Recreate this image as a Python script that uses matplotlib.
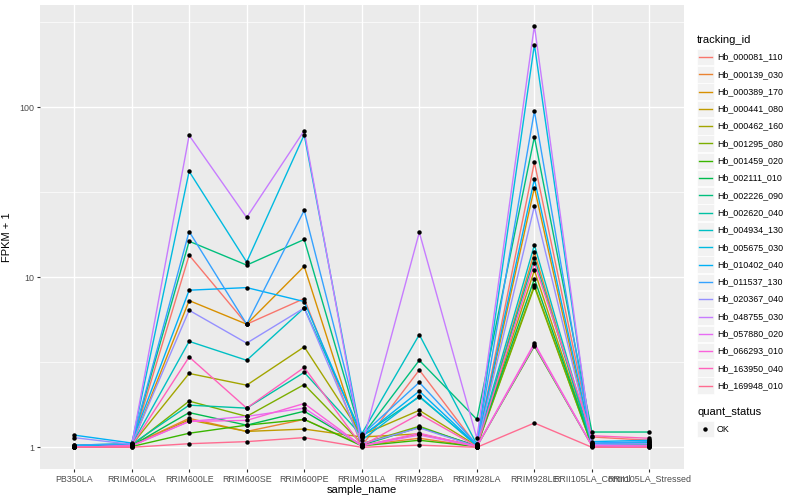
import numpy as np
import matplotlib.pyplot as plt
from matplotlib.lines import Line2D
from matplotlib.patches import Rectangle

plt.rcParams['font.family'] = ['Liberation Sans', 'DejaVu Sans']

samples = ["PB350LA", "RRIM600LA", "RRIM600LE", "RRIM600SE", "RRIM600PE",
           "RRIM901LA", "RRIM928BA", "RRIM928LA", "RRIM928LE",
           "RRII105LA_Control", "RRII105LA_Stressed"]

tracking_ids = ["Hb_000081_110", "Hb_000139_030", "Hb_000389_170", "Hb_000441_080",
                "Hb_000462_160", "Hb_001295_080", "Hb_001459_020", "Hb_002111_010",
                "Hb_002226_090", "Hb_002620_040", "Hb_004934_130", "Hb_005675_030",
                "Hb_010402_040", "Hb_011537_130", "Hb_020367_040", "Hb_048755_030",
                "Hb_057880_020", "Hb_066293_010", "Hb_163950_040", "Hb_169948_010"]

colors = ["#F8766D", "#EA8331", "#D89000", "#C09B00", "#A3A500", "#7CAE00",
          "#39B600", "#00BB4E", "#00BF7D", "#00C1A3", "#00BFC4", "#00BAE0",
          "#00B0F6", "#35A2FF", "#9590FF", "#C77CFF", "#E76BF3", "#FA62DB",
          "#FF62BC", "#FF6C91"]

# FPKM + 1, one row per tracking_id, columns follow samples
fpkm = [
    [1.00, 1.02, 13.5, 5.3, 7.5, 1.02, 2.85, 1.02, 47.5, 1.15, 1.10],
    [1.00, 1.03, 1.48, 1.24, 1.46, 1.03, 1.13, 1.01, 14.0, 1.02, 1.02],
    [1.00, 1.02, 7.3, 5.3, 11.6, 1.02, 1.20, 1.01, 33.7, 1.03, 1.03],
    [1.00, 1.02, 1.45, 1.24, 1.28, 1.15, 1.20, 1.01, 11.0, 1.02, 1.02],
    [1.00, 1.03, 2.72, 2.32, 3.9, 1.18, 1.65, 1.02, 9.0, 1.02, 1.02],
    [1.00, 1.02, 1.87, 1.52, 2.34, 1.05, 1.33, 1.01, 8.8, 1.02, 1.02],
    [1.00, 1.01, 1.21, 1.35, 1.46, 1.02, 1.10, 1.01, 3.94, 1.02, 1.02],
    [1.00, 1.02, 1.60, 1.35, 1.63, 1.03, 1.31, 1.02, 9.8, 1.03, 1.03],
    [1.03, 1.05, 16.3, 11.8, 16.7, 1.16, 3.25, 1.46, 67.0, 1.23, 1.23],
    [1.02, 1.04, 1.77, 1.70, 2.76, 1.17, 1.98, 1.03, 13.0, 1.04, 1.07],
    [1.02, 1.03, 4.2, 3.25, 6.6, 1.20, 4.6, 1.04, 15.5, 1.05, 1.07],
    [1.02, 1.04, 42.0, 12.3, 69.0, 1.10, 2.00, 1.02, 234.0, 1.05, 1.05],
    [1.18, 1.06, 8.4, 8.7, 7.2, 1.15, 2.14, 1.03, 37.9, 1.08, 1.10],
    [1.03, 1.05, 18.6, 5.3, 24.8, 1.18, 2.41, 1.04, 95.0, 1.06, 1.08],
    [1.14, 1.04, 6.4, 4.1, 6.6, 1.05, 1.30, 1.01, 26.2, 1.04, 1.05],
    [1.00, 1.02, 68.4, 22.5, 73.0, 1.02, 18.4, 1.13, 302.0, 1.03, 1.00],
    [1.00, 1.02, 1.42, 1.52, 1.70, 1.02, 1.18, 1.01, 4.0, 1.02, 1.02],
    [1.00, 1.02, 1.42, 1.44, 1.81, 1.02, 1.21, 1.01, 4.1, 1.02, 1.02],
    [1.00, 1.02, 3.4, 1.70, 2.95, 1.02, 1.57, 1.01, 12.1, 1.17, 1.13],
    [1.00, 1.00, 1.05, 1.08, 1.14, 1.00, 1.03, 1.00, 1.39, 1.00, 1.00],
]

fig = plt.figure(figsize=(8, 5), dpi=100)
ax = fig.add_axes([0.0494, 0.062, 0.8056, 0.928])
ax.set_facecolor("#EBEBEB")
for s in ax.spines.values():
    s.set_visible(False)

x = np.arange(len(samples))
for vals, c in zip(fpkm, colors):
    ax.plot(x, vals, color=c, lw=1.0, zorder=3)
for vals in fpkm:
    ax.plot(x, vals, 'o', color='black', ms=3.2, mew=0, zorder=4, ls='none')

ax.set_yscale('log')
ax.set_ylim(10 ** -0.1276, 10 ** 2.602)
ax.set_xlim(-0.6, len(samples) - 0.4)
ax.set_yticks([1, 10, 100])
ax.set_yticklabels(["1", "10", "100"])
ax.set_yticks([10 ** 0.5, 10 ** 1.5, 10 ** 2.5], minor=True)
ax.yaxis.set_minor_formatter(plt.NullFormatter())
ax.set_xticks(x)
ax.set_xticklabels(samples)
ax.grid(True, which='major', color='white', lw=1.0, zorder=1)
ax.grid(True, which='minor', axis='y', color='white', lw=0.5, zorder=1)
ax.tick_params(axis='both', which='major', length=2, width=0.8, color='#333333',
               labelsize=6.4, labelcolor='#4D4D4D', pad=2)
ax.tick_params(axis='y', which='minor', length=0)
ax.set_xlabel("sample_name", fontsize=8, labelpad=1)
ax.set_ylabel("FPKM + 1", fontsize=8, labelpad=5)

# legend drawn by hand in ggplot style
W, H = 800.0, 500.0
def fx(px): return px / W
def fy(py): return 1 - py / H

fig.text(fx(697), fy(40), "tracking_id", fontsize=8, va='center', ha='left')
for i, (name, c) in enumerate(zip(tracking_ids, colors)):
    yc = 57 + i * 17.3
    fig.patches.append(Rectangle((fx(697), fy(yc + 8.3)), fx(16.5), 16.6 / H,
                                 transform=fig.transFigure, facecolor="#F2F2F2",
                                 edgecolor='white', lw=0.5))
    fig.lines.append(Line2D([fx(699), fx(712)], [fy(yc), fy(yc)], color=c, lw=1.0,
                            transform=fig.transFigure))
    fig.text(fx(717), fy(yc), name, fontsize=6.4, va='center', ha='left')

fig.text(fx(697), fy(412), "quant_status", fontsize=8, va='center', ha='left')
fig.patches.append(Rectangle((fx(697), fy(429 + 8.3)), fx(16.5), 16.6 / H,
                             transform=fig.transFigure, facecolor="#F2F2F2",
                             edgecolor='white', lw=0.5))
fig.lines.append(Line2D([fx(705)], [fy(429)], marker='o', color='black', ms=3.2, mew=0,
                        transform=fig.transFigure))
fig.text(fx(717), fy(429), "OK", fontsize=6.4, va='center', ha='left')

fig.savefig("out.png", dpi=100)
